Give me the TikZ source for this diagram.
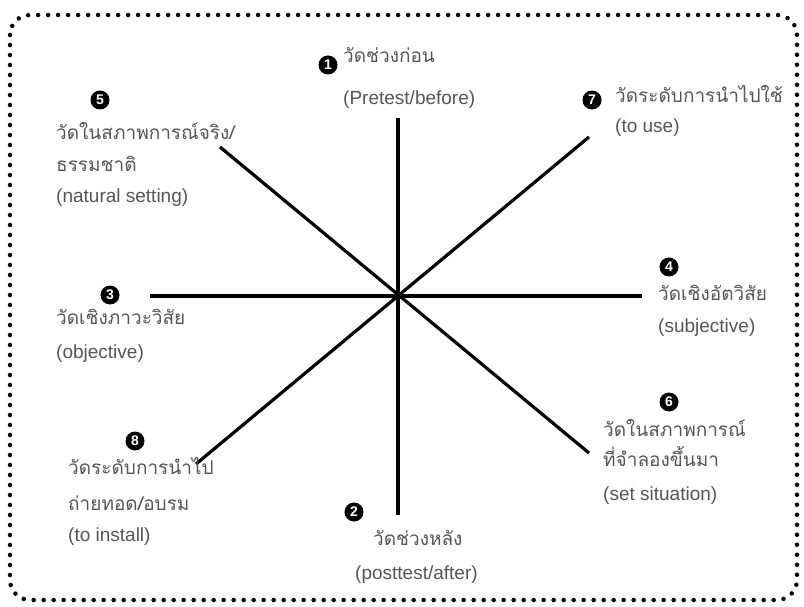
\documentclass[tikz,border=0pt]{standalone}
\usepackage{fontspec}
\setmainfont{Liberation Sans}
\newfontfamily\thaifont[Script=Thai]{Loma}
\usetikzlibrary{positioning}
\definecolor{labelgray}{HTML}{555555}
\tikzset{
  numdot/.style={circle, fill=black, text=white, inner sep=0pt, minimum size=19pt,
    font=\bfseries\fontsize{14}{14}\selectfont},
  lbl/.style={anchor=west, inner sep=0pt, text=labelgray, text height=14pt, text depth=5pt,
    font=\fontsize{19}{19}\selectfont},
  thl/.style={lbl, font=\thaifont\fontsize{19}{19}\selectfont},
  spoke/.style={line width=3.2pt, line cap=butt},
}
\begin{document}
\begin{tikzpicture}[x=1pt, y=-1pt]
\useasboundingbox (0,0) rectangle (804,607);
% dotted frame
\draw [line width=4.5pt, line cap=round, dash pattern=on 0pt off 10pt, rounded corners=20pt]
  (10,15) rectangle (797,600);

% spokes
\coordinate (c) at (398,296);
\coordinate (up) at (398,118);
\coordinate (down) at (398,515);
\coordinate (left) at (150,296);
\coordinate (right) at (642,296);
\coordinate (ne) at (589,137);
\coordinate (sw) at (196,464);
\coordinate (nw) at (220,147);
\coordinate (se) at (589,453);
\draw [spoke] (up) -- (down);
\draw [spoke] (left) -- (right);
\draw [spoke] (ne) -- (sw);
\draw [spoke] (nw) -- (se);

% 1 before
\node [numdot] (n1) at (328,65) {1};
\node [thl] (t1) at (343,58) {วัดช่วงก่อน};
\node [lbl] (e1) at (343,100) {(Pretest/before)};

% 7 to use
\node [numdot] (n7) at (592,100) {7};
\node [thl] (t7) at (615,98) {วัดระดับการนำไปใช้};
\node [lbl] (e7) at (615,128) {(to use)};

% 5 natural setting
\node [numdot] (n5) at (100,100) {5};
\node [thl] (t5) at (56,135) {วัดในสภาพการณ์จริง/};
\node [thl] (t5b) at (56,167) {ธรรมชาติ};
\node [lbl] (e5) at (56,198) {(natural setting)};

% 3 objective
\node [numdot] (n3) at (110,295) {3};
\node [thl] (t3) at (56,320) {วัดเชิงภาวะวิสัย};
\node [lbl] (e3) at (56,354) {(objective)};

% 4 subjective
\node [numdot] (n4) at (669,267) {4};
\node [thl] (t4) at (658,296) {วัดเชิงอัตวิสัย};
\node [lbl] (e4) at (658,328) {(subjective)};

% 6 set situation
\node [numdot] (n6) at (669,402) {6};
\node [thl] (t6) at (603,432) {วัดในสภาพการณ์};
\node [thl] (t6b) at (603,462) {ที่จำลองขึ้นมา};
\node [lbl] (e6) at (603,496) {(set situation)};

% 8 to install
\node [numdot] (n8) at (135,441) {8};
\node [thl] (t8) at (68,470) {วัดระดับการนำไป};
\node [thl] (t8b) at (68,506) {ถ่ายทอด/อบรม};
\node [lbl] (e8) at (68,537) {(to install)};

% 2 after
\node [numdot] (n2) at (354,512) {2};
\node [thl] (t2) at (373,541) {วัดช่วงหลัง};
\node [lbl] (e2) at (355,575) {(posttest/after)};
\end{tikzpicture}
\end{document}
